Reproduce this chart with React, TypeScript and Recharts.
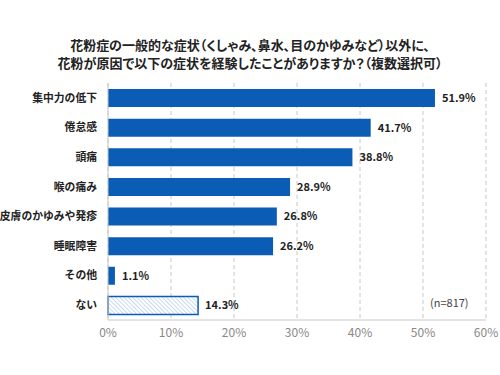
import { BarChart, Bar, XAxis, YAxis, CartesianGrid, Cell, LabelList } from 'recharts'

const categories = ['集中力の低下', '倦怠感', '頭痛', '喉の痛み', '皮膚のかゆみや発疹', '睡眠障害', 'その他', 'ない']
const values = [51.9, 41.7, 38.8, 28.9, 26.8, 26.2, 1.1, 14.3]
const xTicks = [0, 10, 20, 30, 40, 50, 60]

const data = categories.map((name, i) => ({ name, value: values[i] }))

const BLUE = '#0b5cb5'
const FONT = '"Noto Sans CJK JP", "Noto Sans", sans-serif'

export default function App() {
  return (
    <div style={{ position: 'absolute', left: 0, top: 0, width: 500, height: 375, background: '#fff', fontFamily: FONT }}>
      <div
        style={{
          position: 'absolute',
          top: 36,
          left: 0,
          width: 500,
          textAlign: 'center',
          fontSize: 13,
          fontWeight: 'bold',
          lineHeight: '18px',
          color: '#222',
          fontFeatureSettings: '"palt"',
        }}
      >
        花粉症の一般的な症状（くしゃみ、鼻水、目のかゆみなど）以外に、
        <br />
        花粉が原因で以下の症状を経験したことがありますか？（複数選択可）
      </div>
      <BarChart
        width={500}
        height={375}
        data={data}
        layout="vertical"
        margin={{ top: 83, right: 14, left: 0, bottom: 25 }}
        barSize={18}
      >
        <defs>
          <pattern id="hatch" patternUnits="userSpaceOnUse" width="3" height="3" patternTransform="rotate(-45)">
            <rect width="3" height="3" fill="#ffffff" />
            <line x1="0" y1="0" x2="0" y2="3" stroke="#9dbbe0" strokeWidth="1.1" />
          </pattern>
        </defs>
        <CartesianGrid horizontal={false} stroke="#c8c8c8" strokeDasharray="4 3" />
        <XAxis
          type="number"
          domain={[0, 60]}
          ticks={xTicks}
          tickFormatter={(v) => `${v}%`}
          tick={{ fontSize: 12, fill: '#888', fontFamily: FONT }}
          axisLine={{ stroke: '#c8c8c8' }}
          tickLine={false}
          height={30}
        />
        <YAxis
          type="category"
          dataKey="name"
          width={108}
          tick={{ fontSize: 10.8, fill: '#222', fontWeight: 'bold', fontFamily: FONT }}
          axisLine={{ stroke: '#c8c8c8' }}
          tickLine={false}
          tickMargin={5}
        />
        <Bar dataKey="value" isAnimationActive={false}>
          {data.map((d, i) => (
            <Cell
              key={d.name}
              fill={i === data.length - 1 ? 'url(#hatch)' : BLUE}
              stroke={i === data.length - 1 ? BLUE : 'none'}
              strokeWidth={i === data.length - 1 ? 1.5 : 0}
            />
          ))}
          <LabelList
            dataKey="value"
            position="right"
            offset={7}
            formatter={(v: number) => `${v}%`}
            style={{ fontSize: 11, fill: '#222', fontWeight: 'bold', fontFamily: FONT }}
          />
        </Bar>
        <text x={430} y={307} fontSize={11} fill="#444" fontFamily={FONT}>
          (n=817)
        </text>
      </BarChart>
    </div>
  )
}
